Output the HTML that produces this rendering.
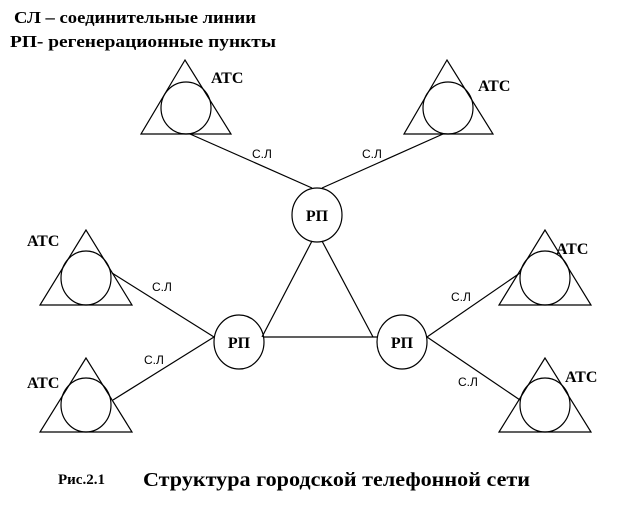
<!DOCTYPE html>
<html><head><meta charset="utf-8"><style>html,body{margin:0;padding:0;background:#fff}svg{display:block}</style></head>
<body>
<svg width="619" height="509" viewBox="0 0 619 509" xmlns="http://www.w3.org/2000/svg">
<g fill="none" stroke="#000" stroke-width="1.2">
<!-- top ATCs -->
<polygon points="185,60 141,134 231,134"/><ellipse cx="186" cy="108" rx="25" ry="26"/>
<polygon points="447,60 404,134 493,134"/><ellipse cx="448" cy="108" rx="25" ry="26"/>
<!-- left ATCs -->
<polygon points="86,230 40,305 132,305"/><ellipse cx="86" cy="278" rx="25" ry="27"/>
<polygon points="86,358 40,432 132,432"/><ellipse cx="86" cy="405" rx="25" ry="27"/>
<!-- right ATCs -->
<polygon points="545,230 499,305 591,305"/><ellipse cx="545" cy="278" rx="25" ry="27"/>
<polygon points="545,358 499,432 591,432"/><ellipse cx="545" cy="405" rx="25" ry="27"/>
<!-- RP -->
<ellipse cx="317" cy="215" rx="25" ry="27"/>
<ellipse cx="239" cy="342" rx="25" ry="27"/>
<ellipse cx="402" cy="342" rx="25" ry="27"/>
<!-- lines -->
<line x1="190" y1="134" x2="312" y2="188"/>
<line x1="443" y1="134" x2="322" y2="188"/>
<line x1="312" y1="241" x2="262" y2="337"/>
<line x1="322" y1="241" x2="373" y2="337"/>
<line x1="263" y1="337" x2="378" y2="337"/>
<line x1="112" y1="273" x2="214" y2="337"/>
<line x1="113" y1="400" x2="214" y2="337"/>
<line x1="427" y1="337" x2="520" y2="273"/>
<line x1="427" y1="337" x2="520" y2="400"/>
</g>
<g font-family="Liberation Serif, serif" font-weight="bold" fill="#000">
<text x="14" y="23" font-size="17" textLength="242" lengthAdjust="spacingAndGlyphs">СЛ – соединительные линии</text>
<text x="10" y="47" font-size="17" textLength="266" lengthAdjust="spacingAndGlyphs">РП- регенерационные пункты</text>
<g font-size="16">
<text x="211" y="83">АТС</text>
<text x="478" y="91">АТС</text>
<text x="27" y="246">АТС</text>
<text x="27" y="388">АТС</text>
<text x="556" y="254">АТС</text>
<text x="565" y="382">АТС</text>
<text x="317" y="221" text-anchor="middle">РП</text>
<text x="239" y="348" text-anchor="middle">РП</text>
<text x="402" y="348" text-anchor="middle">РП</text>
</g>
<text x="58" y="484" font-size="15">Рис.2.1</text>
<text x="143" y="486" font-size="20" textLength="387" lengthAdjust="spacingAndGlyphs">Структура городской телефонной сети</text>
</g>
<g font-family="Liberation Sans, sans-serif" font-size="12" fill="#000">
<text x="252" y="158">С.Л</text>
<text x="362" y="158">С.Л</text>
<text x="152" y="291">С.Л</text>
<text x="144" y="364">С.Л</text>
<text x="451" y="301">С.Л</text>
<text x="458" y="386">С.Л</text>
</g>
</svg>
</body></html>
